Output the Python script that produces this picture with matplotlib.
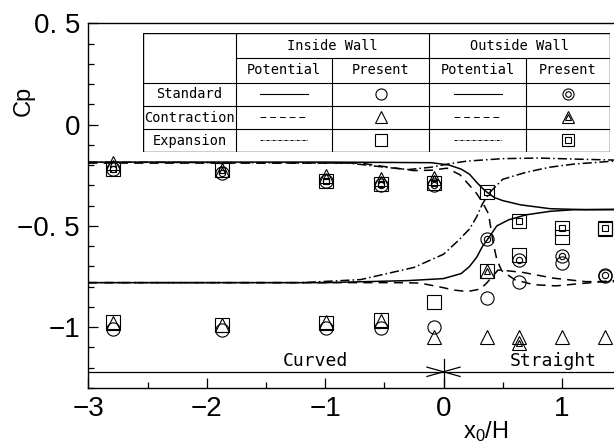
import numpy as np
import matplotlib
matplotlib.use("Agg")
import matplotlib.pyplot as plt
from matplotlib import font_manager
from matplotlib.ticker import MultipleLocator, FixedLocator

names = {f.name for f in font_manager.fontManager.ttflist}
NARROW = "Liberation Sans Narrow" if "Liberation Sans Narrow" in names else "Liberation Sans"
MONO = "DejaVu Sans Mono"

# measurement stations x0/H
x_st = [-2.79, -1.87, -0.99, -0.53, -0.08, 0.37, 0.64, 1.0, 1.36]

# present method, inside wall
in_std = [-1.01, -1.015, -1.005, -1.005, -0.997, -0.857, -0.775, -0.685, -0.745]
in_con = [-0.98, -0.99, -0.975, -0.97, -1.046, -1.05, -1.05, -1.05, -1.05]
in_exp = [-0.975, -0.99, -0.98, -0.965, -0.878, -0.725, -0.645, -0.555, -0.515]
# present method, outside wall
out_std = [-0.219, -0.24, -0.277, -0.298, -0.298, -0.566, -0.67, -0.65, -0.74]
out_con = [-0.19, -0.225, -0.253, -0.268, -0.265, -0.725, -1.08, np.nan, np.nan]
out_exp = [-0.218, -0.224, -0.278, -0.293, -0.29, -0.331, -0.474, -0.51, -0.51]

# potential flow, outside wall
po_std_x = [-3, -1.0, -0.1, 0.05, 0.15, 0.22, 0.28, 0.33, 0.37, 0.43, 0.5, 0.65, 0.9, 1.2, 1.44]
po_std_y = [-0.185, -0.185, -0.188, -0.2, -0.22, -0.245, -0.285, -0.315, -0.335, -0.36, -0.375,
            -0.396, -0.415, -0.42, -0.42]
po_con_x = [-3, -0.7, -0.5, -0.25, -0.1, 0.03, 0.14, 0.22, 0.28, 0.33, 0.38, 0.42, 0.45, 0.49,
            0.6, 0.76, 0.95, 1.15, 1.44]
po_con_y = [-0.19, -0.19, -0.207, -0.227, -0.225, -0.215, -0.248, -0.3, -0.34, -0.385, -0.44,
            -0.585, -0.665, -0.72, -0.765, -0.79, -0.796, -0.785, -0.77]
po_exp_x = [-3, -0.8, -0.5, -0.3, -0.1, 0.05, 0.2, 0.5, 0.8, 1.1, 1.44]
po_exp_y = [-0.185, -0.19, -0.21, -0.222, -0.21, -0.193, -0.18, -0.168, -0.165, -0.17, -0.175]
# potential flow, inside wall
pi_std_x = [-3, -1.0, -0.3, 0.0, 0.15, 0.22, 0.28, 0.33, 0.38, 0.45, 0.55, 0.7, 0.9, 1.1, 1.44]
pi_std_y = [-0.78, -0.78, -0.77, -0.76, -0.735, -0.7, -0.655, -0.6, -0.56, -0.5, -0.47, -0.445,
            -0.428, -0.42, -0.418]
pi_con_x = [-3, -0.4, -0.2, 0.0, 0.08, 0.2, 0.31, 0.36, 0.42, 0.46, 0.55, 0.675, 0.93, 1.2, 1.44]
pi_con_y = [-0.78, -0.78, -0.782, -0.805, -0.816, -0.824, -0.812, -0.785, -0.745, -0.718, -0.722,
            -0.73, -0.758, -0.775, -0.775]
pi_exp_x = [-3, -1.2, -0.7, -0.25, 0.0, 0.12, 0.22, 0.28, 0.33, 0.39, 0.5, 0.7, 0.9, 1.1, 1.44]
pi_exp_y = [-0.78, -0.78, -0.765, -0.705, -0.64, -0.575, -0.515, -0.455, -0.39, -0.335, -0.27,
            -0.235, -0.21, -0.195, -0.18]

y_ticks = [-1, -0.5, 0, 0.5]
y_ticklabels = ["\u22121", "\u22120. 5", "0", "0. 5"]
x_ticks = [-3, -2, -1, 0, 1]
x_ticklabels = ["\u22123", "\u22122", "\u22121", "0", "1"]

fig = plt.figure(figsize=(6.14, 4.48), dpi=100)
ax = fig.add_axes([88.3 / 614, 1 - 388 / 448, 1 - 88.3 / 614, (388 - 23.3) / 448])
ax.set_xlim(-3, 1.44)
ax.set_ylim(-1.3, 0.5)
ax.spines["right"].set_visible(False)
for s in ("left", "bottom", "top"):
    ax.spines[s].set_linewidth(1.0)

K = "black"
LW = 1.1
DASH = (0, (6, 4))
DDOT = (0, (6, 2, 1, 2))
ax.plot(po_std_x, po_std_y, color=K, lw=LW)
ax.plot(pi_std_x, pi_std_y, color=K, lw=LW)
ax.plot(po_con_x, po_con_y, color=K, lw=LW, ls=DASH)
ax.plot(pi_con_x, pi_con_y, color=K, lw=LW, ls=DASH)
ax.plot(po_exp_x, po_exp_y, color=K, lw=LW, ls=DDOT)
ax.plot(pi_exp_x, pi_exp_y, color=K, lw=LW, ls=DDOT)

MS = 9.5
MI = 4.5
mk = dict(ls="none", mfc="none", mec=K, mew=0.8, clip_on=False)
ax.plot(x_st, in_exp, "s", ms=MS, **mk)
ax.plot(x_st, in_con, "^", ms=MS, **mk)
ax.plot(x_st, in_std, "o", ms=MS, **mk)
for m, vals in (("s", out_exp), ("^", out_con), ("o", out_std)):
    ax.plot(x_st, vals, m, ms=MS, **mk)
    ax.plot(x_st, vals, m, ms=MI, **mk)

# duct section marker
ax.axhline(-1.22, color=K, lw=0.9)
ax.plot([0, 0], [-1.3, -1.155], color=K, lw=0.9)
ax.plot([-0.14, 0.14], [-1.197, -1.243], color=K, lw=0.9)
ax.plot([-0.14, 0.14], [-1.243, -1.197], color=K, lw=0.9)
ax.text(-1.08, -1.212, "Curved", family=MONO, fontsize=13, ha="center", va="bottom")
ax.text(0.93, -1.212, "Straight", family=MONO, fontsize=13, ha="center", va="bottom")

ax.yaxis.set_major_locator(FixedLocator(y_ticks))
ax.set_yticklabels(y_ticklabels)
ax.yaxis.set_minor_locator(MultipleLocator(0.1))
ax.xaxis.set_major_locator(FixedLocator(x_ticks))
ax.set_xticklabels(x_ticklabels)
ax.xaxis.set_minor_locator(MultipleLocator(0.5))
ax.tick_params(which="both", direction="in", width=0.9, labelsize=20, pad=6)
ax.tick_params(which="major", length=7.5)
ax.tick_params(which="minor", length=4)
for lab in ax.get_xticklabels() + ax.get_yticklabels():
    lab.set_family(NARROW)

fig.text(24 / 614, 1 - 101 / 448, "Cp", rotation=90, family=NARROW, fontsize=17,
         ha="center", va="center")
fig.text(486 / 614, 1 - 432 / 448, r"$\mathregular{x_0/H}$", family=NARROW, fontsize=17,
         ha="center", va="center")

# ---- legend table
L, R, T, B = 143, 610, 33, 152
tab = fig.add_axes([L / 614, 1 - B / 448, (R - L) / 614, (B - T) / 448])
tab.set_xlim(L, R)
tab.set_ylim(B, T)
tab.axis("off")
tab.add_patch(plt.Rectangle((L, T), R - L, B - T, fc="white", ec=K, lw=1.0))
cols = [143, 236, 332, 429, 526, 610]
rows = [33, 58, 83, 106, 129, 152]
tlw = 0.8
for c in cols[1:-1]:
    y0 = rows[0] if c in (236, 429) else rows[1]
    tab.plot([c, c], [y0, B], color=K, lw=tlw)
for r in rows[1:-1]:
    x0 = cols[1] if r == rows[1] else L
    tab.plot([x0, R], [r, r], color=K, lw=tlw)
fs = 9.8
tab.text((cols[1] + cols[3]) / 2, (rows[0] + rows[1]) / 2, "Inside Wall", family=MONO,
         fontsize=fs, ha="center", va="center")
tab.text((cols[3] + cols[5]) / 2, (rows[0] + rows[1]) / 2, "Outside Wall", family=MONO,
         fontsize=fs, ha="center", va="center")
for i, head in enumerate(["Potential", "Present", "Potential", "Present"]):
    tab.text((cols[i + 1] + cols[i + 2]) / 2, (rows[1] + rows[2]) / 2, head, family=MONO,
             fontsize=fs, ha="center", va="center")
cases = ["Standard", "Contraction", "Expansion"]
styles = ["-", DASH, (0, (3, 1.2, 0.8, 1.2))]
marks = ["o", "^", "s"]
for k, (case, st, m) in enumerate(zip(cases, styles, marks)):
    yc = (rows[k + 2] + rows[k + 3]) / 2
    tab.text((cols[0] + cols[1]) / 2, yc, case, family=MONO, fontsize=fs,
             ha="center", va="center")
    for c in (1, 3):
        xc = (cols[c] + cols[c + 1]) / 2
        tab.plot([xc - 24, xc + 24], [yc, yc], color=K, lw=0.8 if k == 0 else 0.7, ls=st)
    tab.plot((cols[2] + cols[3]) / 2, yc, m, ms=8, mfc="none", mec=K, mew=0.8)
    xo = (cols[4] + cols[5]) / 2
    tab.plot(xo, yc, m, ms=8, mfc="none", mec=K, mew=0.8)
    tab.plot(xo, yc, m, ms=4, mfc="none", mec=K, mew=0.8)

fig.savefig("out.png", dpi=100)
